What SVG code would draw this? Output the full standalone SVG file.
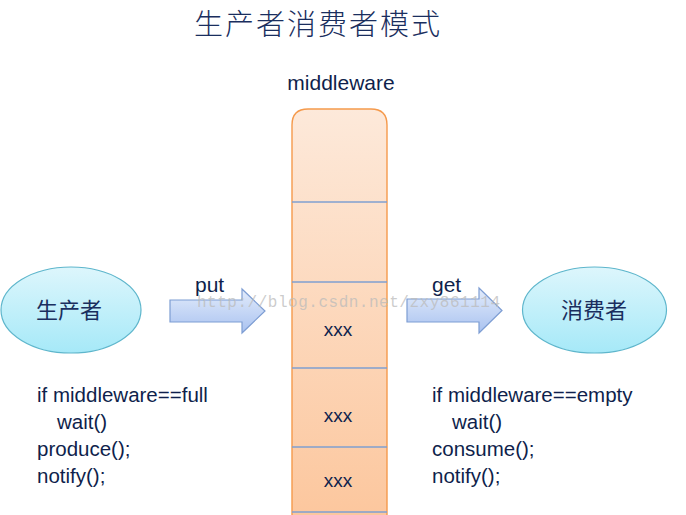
<svg xmlns="http://www.w3.org/2000/svg" width="686" height="515" viewBox="0 0 686 515">
<defs>
<linearGradient id="colG" x1="0" y1="0" x2="0" y2="1">
<stop offset="0" stop-color="#FDE9DA"/>
<stop offset="1" stop-color="#FCC79E"/>
</linearGradient>
<linearGradient id="ellG" x1="0" y1="0" x2="0" y2="1">
<stop offset="0" stop-color="#DDF6FC"/>
<stop offset="1" stop-color="#A6E9F8"/>
</linearGradient>
<linearGradient id="arrG" x1="0" y1="0" x2="0" y2="1">
<stop offset="0" stop-color="#E3ECFB"/>
<stop offset="1" stop-color="#A9C2F0"/>
</linearGradient>
<style>
.t{font-family:"Liberation Sans","Noto Sans CJK SC",sans-serif;fill:#0F1F4C;}
.cjk{font-family:"Noto Sans CJK SC",sans-serif;fill:#1A2E5E;}
.sep{stroke:#7F9FD0;stroke-width:1.3;}
.ell{fill:url(#ellG);stroke:#5EB6CC;stroke-width:1.2;}
.arr{fill:url(#arrG);stroke:#7D9DD3;stroke-width:1.2;}
.code{font-size:20.5px;}
.wm{font-family:"Liberation Mono",monospace;font-size:16px;fill:#BBBBBB;fill-opacity:0.75;}
</style>
</defs>
<rect width="686" height="515" fill="#FFFFFF"/>
<text class="cjk" x="194" y="35" font-size="29" font-weight="300" textLength="246">生产者消费者模式</text>

<g id="middleware">
<text class="t" x="341" y="90" font-size="21" text-anchor="middle">middleware</text>
<path d="M292,515 V125 Q292,109 308,109 H371 Q387,109 387,125 V515" fill="url(#colG)" stroke="#F59A4C" stroke-width="1.4"/>
<line class="sep" x1="292" y1="202" x2="387" y2="202"/>
<line class="sep" x1="292" y1="282" x2="387" y2="282"/>
<line class="sep" x1="292" y1="368" x2="387" y2="368"/>
<line class="sep" x1="292" y1="447" x2="387" y2="447"/>
<line class="sep" x1="292" y1="512" x2="387" y2="512"/>
<text class="t" x="338" y="336" font-size="19" text-anchor="middle">xxx</text>
<text class="t" x="338" y="422" font-size="19" text-anchor="middle">xxx</text>
<text class="t" x="338" y="487" font-size="19" text-anchor="middle">xxx</text>
</g>

<g id="producer">
<ellipse class="ell" cx="71" cy="310" rx="70" ry="43"/>
<text class="cjk" x="69" y="318" font-size="22" text-anchor="middle">生产者</text>
</g>

<g id="consumer">
<ellipse class="ell" cx="594.5" cy="310" rx="72" ry="43"/>
<text class="cjk" x="594" y="318" font-size="22" text-anchor="middle">消费者</text>
</g>

<g id="connectors">
<path class="arr" d="M170,300 H242 V289 L265,311 L242,333 V322 H170 Z"/>
<path class="arr" d="M407,299 H479 V288 L502,310.5 L479,333 V322 H407 Z"/>
<text class="t" x="195" y="292" font-size="21">put</text>
<text class="t" x="432" y="292" font-size="21">get</text>
</g>

<g id="producer-code" class="t code">
<text x="37" y="402">if middleware==full</text>
<text x="57" y="429">wait()</text>
<text x="37" y="456">produce();</text>
<text x="37" y="483">notify();</text>
</g>

<g id="consumer-code" class="t code">
<text x="432" y="402">if middleware==empty</text>
<text x="452" y="429">wait()</text>
<text x="432" y="456">consume();</text>
<text x="432" y="483">notify();</text>
</g>

<text class="wm" x="197" y="307" textLength="303">http://blog.csdn.net/zxy861114</text>
</svg>
